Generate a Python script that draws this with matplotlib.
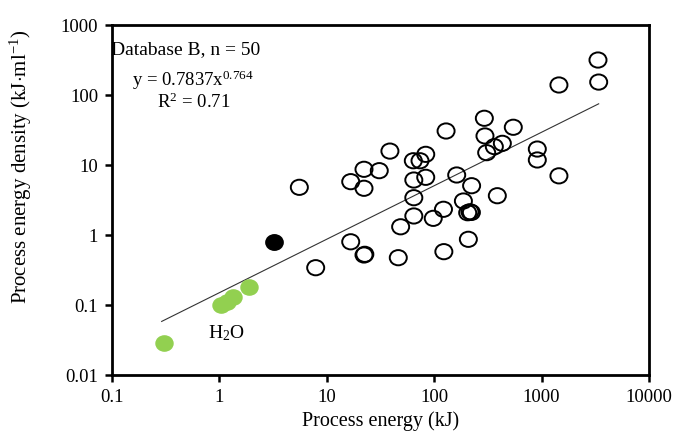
import matplotlib
matplotlib.use("Agg")
import matplotlib.pyplot as plt
from matplotlib.markers import MarkerStyle
from matplotlib.transforms import Affine2D
import numpy as np

plt.rcParams['font.family'] = ['Liberation Serif', 'DejaVu Serif']
plt.rcParams['mathtext.fontset'] = 'custom'
plt.rcParams['mathtext.rm'] = 'Liberation Serif'
plt.rcParams['mathtext.it'] = 'Liberation Serif:italic'

# Open circles: process energy (kJ) and density (kJ/ml)
open_x = [3350, 3400, 1450, 912, 912, 1450, 293, 545, 129, 297, 431, 363, 308,
          38.7, 83.4, 63.9, 73.8, 30.8, 22.2, 64.6, 83.4, 162, 223, 64.6, 387,
          187, 122, 205, 215, 222, 64.6, 98, 48.7, 208, 123, 46.3, 5.55, 16.7,
          22.2, 7.88, 16.7, 22.2, 22.6]
open_y = [316, 153, 139, 16.9, 11.8, 7.0, 46.5, 34.6, 30.6, 26, 20.4, 18.3, 15,
          15.8, 14.2, 11.5, 11.5, 8.3, 8.68, 6.1, 6.67, 7.2, 5.06, 3.41, 3.64,
          3.06, 2.33, 2.08, 2.15, 2.1, 1.87, 1.73, 1.31, 0.868, 0.578, 0.474, 4.8, 5.78,
          4.65, 0.341, 0.80, 0.518, 0.53]

# Filled black point
black_x = [3.22]
black_y = [0.80]

# Green H2O points
green_x = [0.305, 1.03, 1.17, 1.35, 1.9]
green_y = [0.0289, 0.100, 0.109, 0.129, 0.183]

# Trend line as drawn (power law), range
trend_coef = 0.15
trend_exp = 0.764
trend_xmin, trend_xmax = 0.29, 3400

fig = plt.figure(figsize=(6.77, 4.32), dpi=100)
ax = fig.add_axes([112/677, 1-375/432, (649-112)/677, (375-25)/432])
ax.set_xscale('log')
ax.set_yscale('log')
ax.set_xlim(0.1, 10000)
ax.set_ylim(0.01, 1000)

tx = np.logspace(np.log10(trend_xmin), np.log10(trend_xmax), 50)
ax.plot(tx, trend_coef * tx**trend_exp, color='#333333', lw=0.8, zorder=2)

ell = MarkerStyle('o', transform=Affine2D().scale(1.12, 1.0))
ax.scatter(open_x, open_y, marker=ell, s=120, facecolors='none',
           edgecolors='black', linewidths=1.4, zorder=3)
ax.scatter(black_x, black_y, marker=ell, s=120, facecolors='black',
           edgecolors='black', linewidths=1.2, zorder=3)
ax.scatter(green_x, green_y, marker=ell, s=120, facecolors='#92d050',
           edgecolors='#92d050', linewidths=1.0, zorder=3)

for s in ax.spines.values():
    s.set_linewidth(2.0)
ax.minorticks_off()
ax.set_xticks([0.1, 1, 10, 100, 1000, 10000])
ax.set_xticklabels(['0.1', '1', '10', '100', '1000', '10000'])
ax.set_yticks([0.01, 0.1, 1, 10, 100, 1000])
ax.set_yticklabels(['0.01', '0.1', '1', '10', '100', '1000'])
ax.tick_params(axis='both', direction='out', length=5, width=1.8, labelsize=13.5, pad=5)

ax.set_xlabel('Process energy (kJ)', fontsize=14.5)
ax.xaxis.set_label_coords(0.5, -0.105)
ax.set_ylabel(r'Process energy density (kJ$\cdot$ml$^{\mathregular{-1}}$)', fontsize=15)
ax.yaxis.set_label_coords(-0.145, 0.595)

ax.text(111/677, 1-54/432, 'Database B, n = 50', transform=fig.transFigure,
        fontsize=14, va='baseline', ha='left')
ax.text(132/677, 1-86/432, r'y = 0.7837x$^{\mathregular{0.764}}$', transform=fig.transFigure,
        fontsize=13.5, va='baseline', ha='left')
ax.text(157/677, 1-108/432, r'R$^{\mathregular{2}}$ = 0.71', transform=fig.transFigure,
        fontsize=13.5, va='baseline', ha='left')
ax.text(208/677, 1-338/432, r'H$_{\mathregular{2}}$O', transform=fig.transFigure,
        fontsize=14, va='baseline', ha='left')

fig.savefig('out.png', dpi=100)
